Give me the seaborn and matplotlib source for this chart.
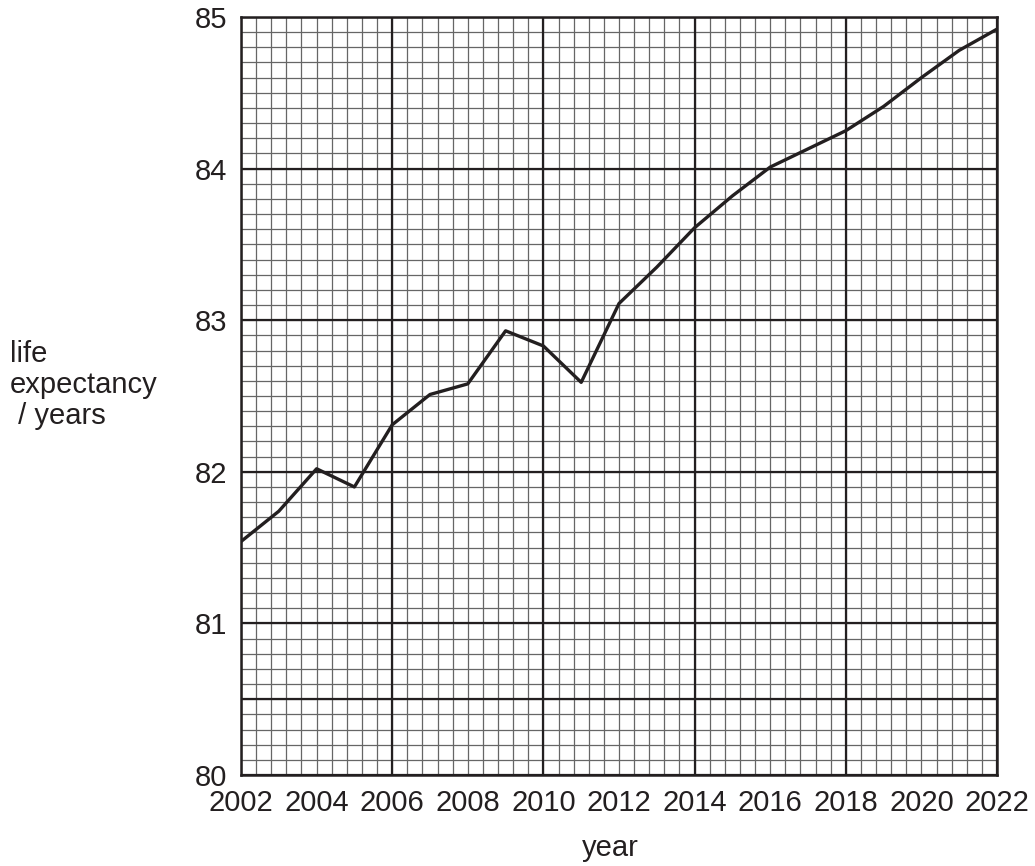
import matplotlib
matplotlib.use('Agg')
import numpy as np
import matplotlib.pyplot as plt
import seaborn as sns

# Data
years = list(range(2002, 2023))
life_expectancy = [81.54, 81.74, 82.02, 81.90, 82.31, 82.51, 82.58, 82.93, 82.83, 82.59,
                   83.11, 83.35, 83.61, 83.82, 84.01, 84.13, 84.25, 84.41, 84.60, 84.78, 84.92]
x_ticks = list(range(2002, 2023, 2))
y_ticks = [80, 81, 82, 83, 84, 85]

sns.set_style('white')
plt.rcParams['font.family'] = ['Liberation Sans', 'DejaVu Sans']

ink = '#231f20'

fig = plt.figure(figsize=(10.35, 8.66), dpi=100)
ax = fig.add_axes([241 / 1035, 1 - 775 / 866, (997 - 241) / 1035, (775 - 17) / 866])

# graph paper grid: small squares 0.4 yr x 0.1, heavier lines every 4 yr and each whole year of age
ax.vlines(np.arange(2002, 2022.01, 0.4), 80, 85, color='#666666', lw=0.9, zorder=0)
ax.hlines(np.arange(80, 85.001, 0.1), 2002, 2022, color='#666666', lw=0.9, zorder=0)
ax.vlines(np.arange(2002, 2023, 4), 80, 85, color=ink, lw=1.6, zorder=1)
ax.hlines(np.r_[np.arange(80, 86, 1), 80.5], 2002, 2022, color=ink, lw=1.6, zorder=1)

sns.lineplot(x=years, y=life_expectancy, color=ink, linewidth=2.4, ax=ax, zorder=3)

ax.set_xlim(2002, 2022)
ax.set_ylim(80, 85)
ax.set_xticks(x_ticks)
ax.set_yticks(y_ticks)
ax.tick_params(axis='both', direction='out', length=8, width=1.8, color=ink,
               labelsize=21, labelcolor=ink, pad=2)
for s in ax.spines.values():
    s.set_color(ink)
    s.set_linewidth(1.8)
    s.set_zorder(4)
ax.set_xlabel('')
ax.set_ylabel('')

fig.text(610 / 1035, 1 - 848 / 866, 'year', ha='center', va='center', fontsize=21, color=ink)
fig.text(10 / 1035, 1 - 385 / 866, 'life\nexpectancy\n / years', ha='left', va='center',
         fontsize=21, color=ink, linespacing=1.15)

fig.savefig('out.png', dpi=100)
